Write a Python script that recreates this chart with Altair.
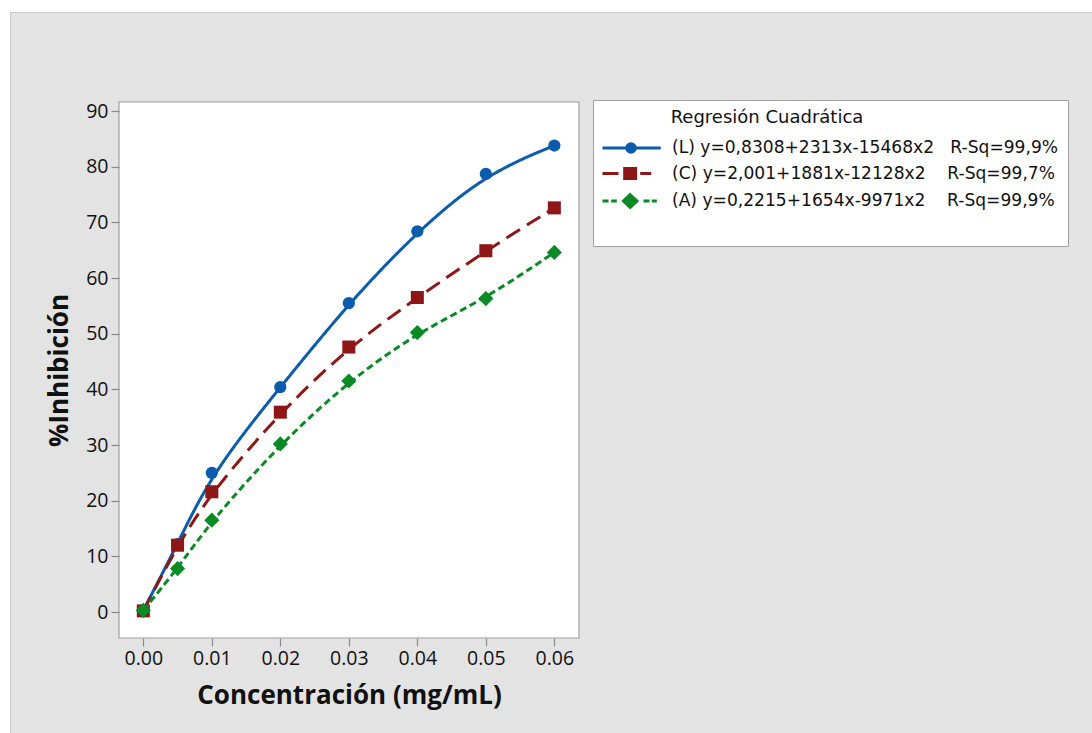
import altair as alt
import pandas as pd

# ---- data ----
conc = [0.0, 0.005, 0.01, 0.02, 0.03, 0.04, 0.05, 0.06]
inhib_L = [0.3, 12.2, 25.0, 40.4, 55.5, 68.4, 78.7, 83.8]
inhib_C = [0.2, 12.0, 21.6, 35.9, 47.6, 56.5, 64.9, 72.6]
inhib_A = [0.3, 7.8, 16.5, 30.2, 41.5, 50.2, 56.3, 64.6]

NB = "\u00a0"
series_labels = [
    "(L) y=0,8308+2313x-15468x2" + NB * 3 + "R-Sq=99,9%",
    "(C) y=2,001+1881x-12128x2" + NB * 4 + "R-Sq=99,7%",
    "(A) y=0,2215+1654x-9971x2" + NB * 4 + "R-Sq=99,9%",
]
series_colors = ["#0b5cad", "#8e1616", "#0a8a24"]
series_shapes = ["circle", "square", "diamond"]
series_dash = [[1, 0], [16, 8], [7, 4]]
legend_paths = [
    "M-1.15,0H4.68M2.12,0A0.42,0.42,0,1,1,1.28,0A0.42,0.42,0,1,1,2.12,0Z",
    "M-1.15,0H0.45M2.62,0H3.72M1.08,-0.5H2.15V0.5H1.08Z",
    "M-1.15,0H-0.55M-0.28,0H0.28M2.95,0H3.55M3.78,0H4.28M1.62,-0.62L2.28,0L1.62,0.62L0.96,0Z",
]
# a blank spacer row at the bottom of the legend box
legend_domain = series_labels + [""]
legend_colors = series_colors + ["transparent"]
legend_shapes = legend_paths + ["M0,0"]

x_ticks = [0.0, 0.01, 0.02, 0.03, 0.04, 0.05, 0.06]
y_ticks = [0, 10, 20, 30, 40, 50, 60, 70, 80, 90]

rows = []
for lab, vals in zip(series_labels, [inhib_L, inhib_C, inhib_A]):
    for c, v in zip(conc, vals):
        rows.append({"serie": lab, "conc": c, "inhib": v})
df = pd.DataFrame(rows)

# ---- layout ----
W, H = 460, 536
PL, PT = 119, 102
PR, PB = 1092 - PL - W, 733 - PT - H
FONT = "Open Sans"
LFONT = "DejaVu Sans"

xs = alt.Scale(domain=[-0.00355, 0.0636], nice=False, zero=False)
ys = alt.Scale(domain=[-4.67, 91.62], nice=False, zero=False)

x_enc = alt.X("conc:Q", scale=xs,
              axis=alt.Axis(values=x_ticks, format=".2f", title="Concentración (mg/mL)",
                            titlePadding=15, zindex=2))
y_enc = alt.Y("inhib:Q", scale=ys,
              axis=alt.Axis(values=y_ticks, format="d", title="%Inhibición",
                            titlePadding=13, zindex=2))
color_enc = alt.Color("serie:N", scale=alt.Scale(domain=series_labels, range=series_colors),
                      legend=None)

one = alt.Data(values=[{}])

# white page margin above / left of the grey panel, with the panel's border
top_strip = alt.Chart(one).mark_rect(fill="white").encode(
    x=alt.value(-PL), x2=alt.value(W + PR), y=alt.value(-PT), y2=alt.value(-PT + 12))
left_strip = alt.Chart(one).mark_rect(fill="white").encode(
    x=alt.value(-PL), x2=alt.value(-PL + 10), y=alt.value(-PT), y2=alt.value(H + PB))
top_border = alt.Chart(one).mark_rule(color="#c9c9c9", strokeWidth=1).encode(
    x=alt.value(-PL + 10.5), x2=alt.value(W + PR), y=alt.value(-PT + 12.5))
left_border = alt.Chart(one).mark_rule(color="#c9c9c9", strokeWidth=1).encode(
    x=alt.value(-PL + 10.5), y=alt.value(-PT + 12.5), y2=alt.value(H + PB))
plotbg = alt.Chart(one).mark_rect(fill="white", stroke="#a0a0a0", strokeWidth=1.2).encode(
    x=alt.value(0), x2=alt.value(W), y=alt.value(0), y2=alt.value(H))

layers = [top_strip, left_strip, top_border, left_border, plotbg]
for lab, shp, dash in zip(series_labels, series_shapes, series_dash):
    base = alt.Chart(df).transform_filter(alt.datum.serie == lab)
    line = base.mark_line(interpolate="basis", strokeWidth=3, strokeDash=dash).encode(
        x=x_enc, y=y_enc, color=color_enc)
    size = {"circle": 150, "square": 170, "diamond": 230}[shp]
    pts = base.mark_point(filled=True, shape=shp, size=size, opacity=1).encode(
        x=x_enc, y=y_enc, color=color_enc)
    layers += [line, pts]

leg = alt.Legend(title="\u200b" + NB * 12 + "Regresión Cuadrática", orient="none",
                 legendX=474, legendY=-2,
                 padding=9, symbolSize=400, symbolStrokeWidth=3.2, labelOffset=46,
                 titlePadding=9, rowPadding=2.5, labelFont=LFONT, labelFontSize=17.1,
                 titleFont=LFONT, titleFontSize=18, titleFontWeight="normal",
                 labelColor="#111111", titleColor="#111111", labelLimit=700, titleLimit=700,
                 zindex=3, fillColor="white", strokeColor="#a0a0a0")
legend_layer = alt.Chart(df).transform_filter("false").mark_point(
    filled=True, opacity=1, size=400, strokeWidth=3.2).encode(
    x=x_enc, y=y_enc,
    fill=alt.Fill("serie:N", scale=alt.Scale(domain=legend_domain, range=legend_colors), legend=leg),
    stroke=alt.Stroke("serie:N", scale=alt.Scale(domain=legend_domain, range=legend_colors), legend=leg),
    shape=alt.Shape("serie:N", scale=alt.Scale(domain=legend_domain, range=legend_shapes), legend=leg),
)
layers.append(legend_layer)

chart = alt.layer(*layers).properties(
    width=W, height=H,
    autosize=alt.AutoSizeParams(type="none"),
    padding={"left": PL, "top": PT, "right": PR, "bottom": PB},
    background="#e3e3e3",
).configure_view(stroke=None, fill=None).configure_axis(
    domain=False, grid=False, tickColor="#8a8a8a", tickSize=8, tickWidth=1.2,
    labelFont=FONT, labelFontSize=19.5, labelColor="#111111", labelPadding=3,
    titleFont=FONT, titleFontSize=26, titleFontWeight="bold", titleColor="#111111",
)

chart.save("out.html", embed_options={"renderer": "svg", "actions": False})
